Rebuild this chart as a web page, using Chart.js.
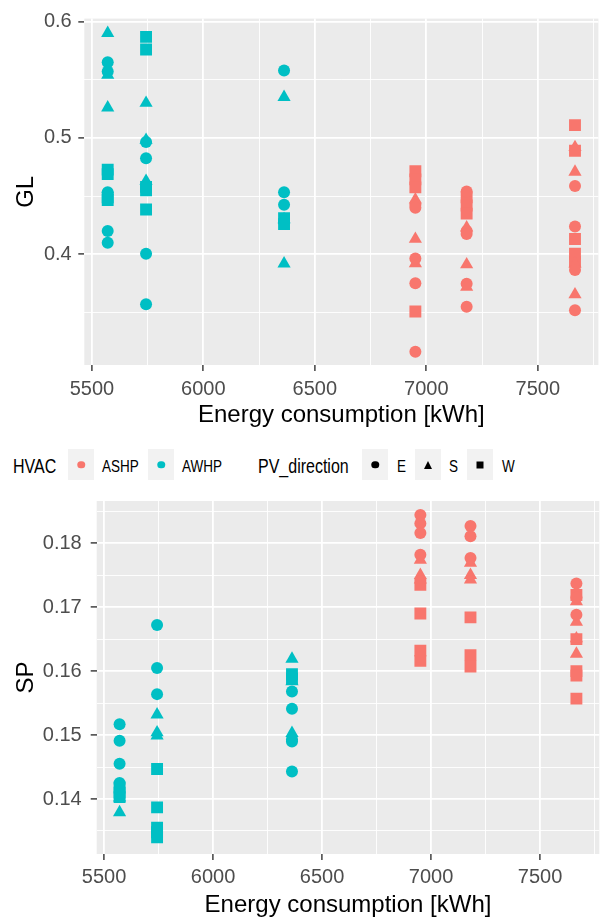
<!DOCTYPE html>
<html>
<head>
<meta charset="utf-8">
<script src="https://cdn.jsdelivr.net/npm/chart.js@4"></script>
<style>
  body { margin: 0; background: #fff; width: 600px; height: 921px; position: relative; overflow: hidden;
         font-family: "Liberation Sans", Arial, sans-serif; }
  canvas { position: absolute; left: 0; }
  #glChart { top: 0; }
  #spChart { top: 480px; }
  .lg { position: absolute; top: 467px; line-height: 1; white-space: nowrap; transform: translateY(-50%) scaleY(1.22); }
  .lg.title { font-size: 16px; color: #000; }
  .lg.item { font-size: 13.5px; color: #000; }
  .key { position: absolute; top: 449px; width: 26px; height: 31px; background: #F2F2F2; }
  .key span { position: absolute; left: 50%; top: 50%; transform: translate(-50%, -50%); }
  .dot { width: 7.5px; height: 7.5px; border-radius: 50%; }
  .sq { width: 7px; height: 7px; background: #000; }
  .tri { width: 0; height: 0; border-left: 4.5px solid transparent; border-right: 4.5px solid transparent; border-bottom: 8px solid #000; }
</style>
</head>
<body>
<canvas id="glChart" width="600" height="440"></canvas>
<canvas id="spChart" width="600" height="441"></canvas>

<div class="lg title" style="left:13px">HVAC</div>
<div class="key" style="left:68px"><span class="dot" style="background:#F8766D"></span></div>
<div class="lg item" style="left:102px">ASHP</div>
<div class="key" style="left:148px"><span class="dot" style="background:#00BFC4"></span></div>
<div class="lg item" style="left:182px">AWHP</div>
<div class="lg title" style="left:258px">PV_direction</div>
<div class="key" style="left:362px"><span class="dot" style="background:#000"></span></div>
<div class="lg item" style="left:397px">E</div>
<div class="key" style="left:415px"><span class="tri"></span></div>
<div class="lg item" style="left:449px">S</div>
<div class="key" style="left:467px"><span class="sq"></span></div>
<div class="lg item" style="left:502px">W</div>

<script>
// energy consumption of each simulated configuration (kWh), and its HVAC type
const energyKWh = [5571, 5743, 6362, 6951, 7181, 7667];
const hvacGroup = ['AWHP', 'AWHP', 'AWHP', 'ASHP', 'ASHP', 'ASHP'];

// GL values per energy column, split by PV direction
const glEast = [
  [0.565, 0.557, 0.4534, 0.420, 0.410],
  [0.4966, 0.4826, 0.4006, 0.3571],
  [0.558, 0.4534, 0.4427],
  [0.4427, 0.440, 0.3964, 0.3753, 0.3163],
  [0.454, 0.420, 0.4175, 0.3747, 0.3551],
  [0.4587, 0.4239, 0.3866, 0.352]
];
const glSouth = [
  [0.590, 0.554, 0.526],
  [0.530, 0.4982, 0.463],
  [0.535, 0.430, 0.392],
  [0.447, 0.4132, 0.3922],
  [0.423, 0.3913, 0.372],
  [0.492, 0.4708, 0.392, 0.3655]
];
const glWest = [
  [0.4728, 0.4689, 0.449, 0.4467],
  [0.5868, 0.576, 0.458, 0.455, 0.4385],
  [0.431, 0.426],
  [0.4714, 0.4644, 0.4576, 0.3509],
  [0.449, 0.442, 0.435],
  [0.511, 0.489, 0.4132, 0.4006, 0.3936]
];

// SP values per energy column, split by PV direction
const spEast = [
  [0.1517, 0.1491, 0.1455, 0.1425],
  [0.1672, 0.1605, 0.1564],
  [0.1568, 0.1541, 0.1493, 0.1490, 0.1443],
  [0.1844, 0.1831, 0.1816, 0.1782],
  [0.1827, 0.1811, 0.1777],
  [0.1737, 0.1715, 0.1688]
];
const spSouth = [
  [0.1402, 0.1379],
  [0.1532, 0.1504, 0.1499],
  [0.1619, 0.1584, 0.1503],
  [0.1774, 0.1750, 0.1743],
  [0.1769, 0.1750, 0.1743],
  [0.1709, 0.1677, 0.1651, 0.1627]
];
const spWest = [
  [0.1418, 0.1410, 0.1403],
  [0.1447, 0.1387, 0.1355, 0.1348, 0.1340],
  [0.1595, 0.1588],
  [0.1735, 0.1690, 0.1632, 0.1616],
  [0.1684, 0.1625, 0.1607],
  [0.1719, 0.1650, 0.1600, 0.1593, 0.1557]
];

// axis ticks (empty label = minor grid line)
const energyTicks = [5500, 5750, 6000, 6250, 6500, 6750, 7000, 7250, 7500, 7750];
const energyLabels = ['5500', '', '6000', '', '6500', '', '7000', '', '7500', ''];
const glTicks = [0.35, 0.4, 0.45, 0.5, 0.55, 0.6];
const glLabels = ['', '0.4', '', '0.5', '', '0.6'];
const spTicks = [0.135, 0.14, 0.145, 0.15, 0.155, 0.16, 0.165, 0.17, 0.175, 0.18, 0.185];
const spLabels = ['', '0.14', '', '0.15', '', '0.16', '', '0.17', '', '0.18', ''];

const hvacColors = { ASHP: '#F8766D', AWHP: '#00BFC4' };
const directions = [
  { name: 'E', style: 'circle', radius: 6 },
  { name: 'S', style: 'triangle', radius: 7.6 },
  { name: 'W', style: 'rect', radius: 8.4 }
];

Chart.defaults.font.family = '"Liberation Sans", Arial, sans-serif';
Chart.defaults.animation = false;

// grey ggplot panel behind the grid
const panelBg = {
  id: 'panelBg',
  beforeDraw(chart) {
    const { ctx, chartArea: a } = chart;
    ctx.save();
    ctx.fillStyle = '#EBEBEB';
    ctx.fillRect(a.left, a.top, a.right - a.left, a.bottom - a.top);
    ctx.restore();
  }
};

function buildDatasets(byDirection) {
  const sets = [];
  directions.forEach((dir, d) => {
    ['ASHP', 'AWHP'].forEach(hvac => {
      const pts = [];
      energyKWh.forEach((e, c) => {
        if (hvacGroup[c] !== hvac) return;
        byDirection[d][c].forEach(v => pts.push({ x: e, y: v }));
      });
      sets.push({
        label: hvac + ' ' + dir.name,
        data: pts,
        pointStyle: dir.style,
        pointRadius: dir.radius,
        pointBorderWidth: 0,
        backgroundColor: hvacColors[hvac],
        borderColor: hvacColors[hvac]
      });
    });
  });
  return sets;
}

function gridOpts(labels) {
  return {
    color: '#FFFFFF',
    lineWidth: ctx => (labels[ctx.index] ? 1.8 : 0.9),
    drawTicks: true,
    tickLength: 6,
    tickWidth: 1.4,
    tickColor: ctx => (labels[ctx.index] ? '#333333' : 'rgba(0,0,0,0)')
  };
}

function makeChart(id, yTitle, byDirection, yTicks, yLabels, yMin, yMax, lay) {
  return new Chart(document.getElementById(id), {
    type: 'scatter',
    data: { datasets: buildDatasets(byDirection) },
    plugins: [panelBg],
    options: {
      responsive: false,
      events: [],
      layout: { autoPadding: false, padding: { top: lay.top, right: 0, bottom: lay.bottom, left: 0 } },
      plugins: { legend: { display: false }, tooltip: { enabled: false } },
      scales: {
        x: {
          type: 'linear',
          min: 5466,
          max: 7772,
          afterBuildTicks: axis => { axis.ticks = energyTicks.map(v => ({ value: v })); },
          afterFit: axis => { axis.height = lay.xHeight; },
          border: { display: false },
          grid: gridOpts(energyLabels),
          ticks: {
            autoSkip: false,
            maxRotation: 0,
            padding: lay.xPad,
            color: '#4D4D4D',
            font: { size: 20 },
            callback: (v, i) => energyLabels[i]
          },
          title: {
            display: true,
            text: 'Energy consumption [kWh]',
            color: '#000',
            font: { size: 24 },
            padding: { top: 0, bottom: 0.6 }
          }
        },
        y: {
          type: 'linear',
          min: yMin,
          max: yMax,
          afterBuildTicks: axis => { axis.ticks = yTicks.map(v => ({ value: v })); },
          afterFit: axis => { axis.width = lay.yWidth; },
          border: { display: false },
          grid: gridOpts(yLabels),
          ticks: {
            autoSkip: false,
            padding: lay.yPad,
            color: '#4D4D4D',
            font: { size: 20 },
            callback: (v, i) => yLabels[i]
          },
          title: {
            display: true,
            text: yTitle,
            color: '#000',
            font: { size: 24 },
            padding: { top: 11.6, bottom: 0 }
          }
        }
      }
    }
  });
}

makeChart('glChart', 'GL', [glEast, glSouth, glWest], glTicks, glLabels, 0.305, 0.6025,
  { top: 12, bottom: 10, xHeight: 65, yWidth: 84.3, xPad: 6.5, yPad: 6.6 });
makeChart('spChart', 'SP', [spEast, spSouth, spWest], spTicks, spLabels, 0.1314, 0.1866,
  { top: 20, bottom: 1, xHeight: 66, yWidth: 96.7, xPad: 5.5, yPad: 9 });
</script>
</body>
</html>
